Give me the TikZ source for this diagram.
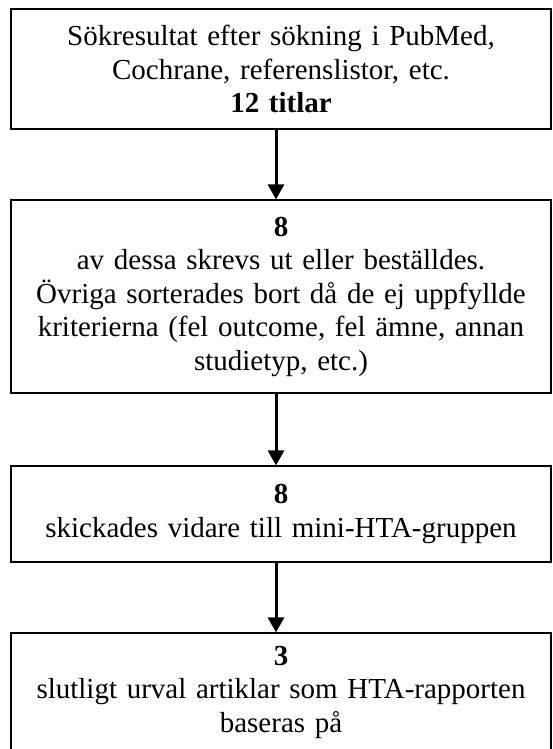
\documentclass[tikz,border=0pt]{standalone}
\usepackage{fontspec}
\setmainfont{Liberation Serif}
\usetikzlibrary{arrows.meta}

\tikzset{
  box/.style={draw, line width=1.2pt, minimum width=540pt, text width=525pt,
    align=center, inner sep=0pt, font=\fontsize{29}{33.5}\selectfont},
  arr/.style={line width=3pt, -{Triangle[length=15pt,width=16pt]}}
}

\begin{document}
\begin{tikzpicture}[x=1pt, y=-1pt]

% 1. Page frame (the reference is cut off at the right and bottom)
\clip (0,0) rectangle (553,749);

% 2. The four boxes, top to bottom
\node[box, minimum height=120pt] (titles) at (281,69)
  {Sökresultat efter sökning i PubMed,\\ Cochrane, referenslistor, etc.\\ \textbf{12 titlar}};
\node[box, minimum height=193pt] (printed) at (281,296.5)
  {\textbf{8}\\ av dessa skrevs ut eller beställdes.\\ Övriga sorterades bort då de ej uppfyllde\\ kriterierna (fel outcome, fel ämne, annan\\ studietyp, etc.)};
\node[box, minimum height=96pt] (group) at (281,514)
  {\textbf{8}\\ skickades vidare till mini-HTA-gruppen};
\node[box, minimum height=118pt] (final) at (281,692)
  {\textbf{3}\\ slutligt urval artiklar som HTA-rapporten\\ baseras på};

% 3. Arrows between the boxes
\draw[arr] ([xshift=-5pt]titles.south) -- ([xshift=-5pt]printed.north);
\draw[arr] ([xshift=-5pt]printed.south) -- ([xshift=-5pt]group.north);
\draw[arr] ([xshift=-5pt]group.south) -- ([xshift=-5pt]final.north);

\end{tikzpicture}
\end{document}
